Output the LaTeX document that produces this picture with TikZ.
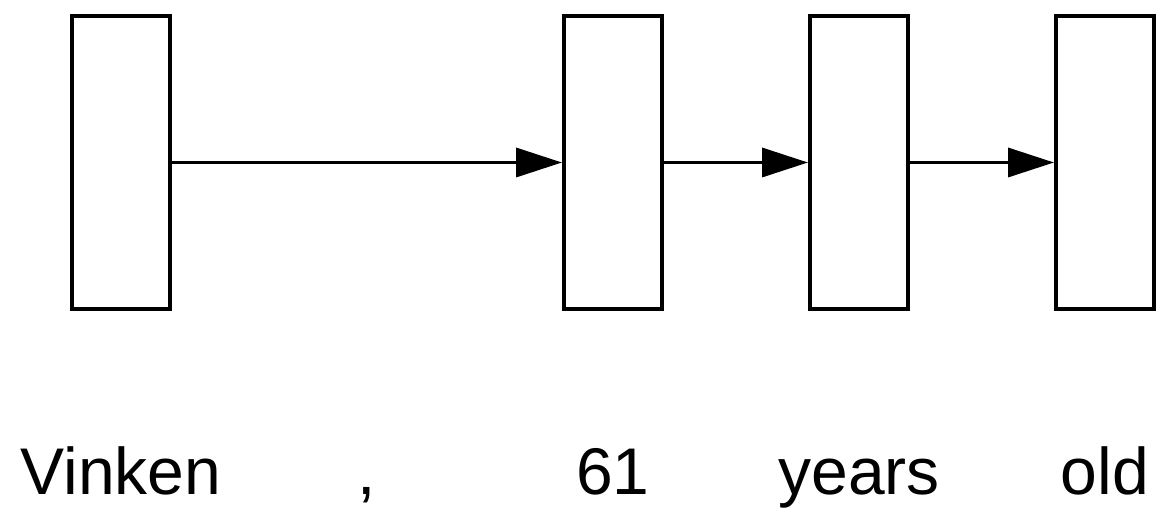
\documentclass[tikz,border=0pt]{standalone}
\usepackage{fontspec}
\setmainfont{Liberation Sans}
\usetikzlibrary{arrows.meta,positioning}

\begin{document}
\begin{tikzpicture}[x=1pt,y=1pt,>={Triangle[length=46pt,width=29pt]},
    cell/.style={draw,line width=4pt,minimum width=98pt,minimum height=293pt,inner sep=0pt},
    tok/.style={anchor=base,inner sep=0pt,font=\fontsize{66}{79}\selectfont}]
  \useasboundingbox (0,0) rectangle (1156,511);
  % hidden states
  \node[cell] (h0) at (121,348.5) {};
  \node[cell] (h2) at (613,348.5) {};
  \node[cell] (h3) at (859,348.5) {};
  \node[cell] (h4) at (1105,348.5) {};
  \draw[->,line width=3.5pt] (h0) -- (h2);
  \draw[->,line width=3.5pt] (h2) -- (h3);
  \draw[->,line width=3.5pt] (h3) -- (h4);
  % words
  \node[tok] (w0) at (121,16) {Vinken};
  \node[tok] (w1) at (367,16) {,};
  \node[tok] (w2) at (613,16) {61};
  \node[tok] (w3) at (859,16) {years};
  \node[tok] (w4) at (1105,16) {old};
\end{tikzpicture}
\end{document}
